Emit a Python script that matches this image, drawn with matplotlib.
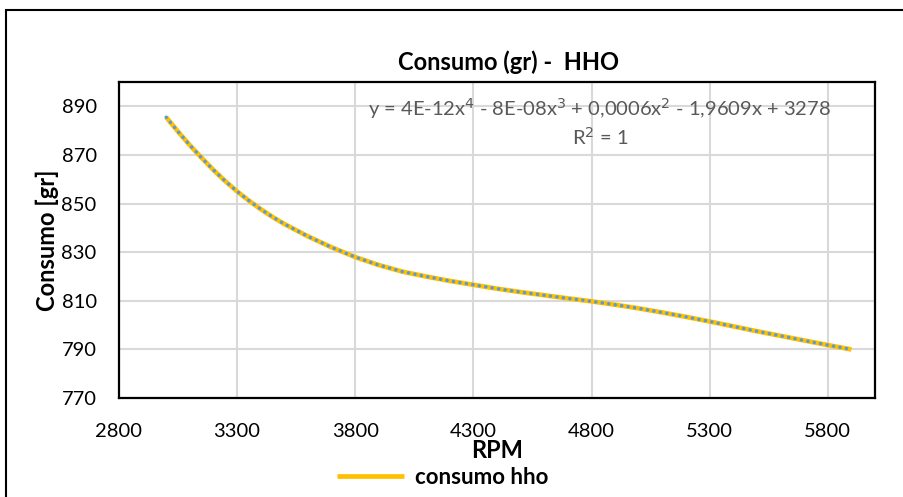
import numpy as np
import matplotlib
matplotlib.use("Agg")
import matplotlib.pyplot as plt
from matplotlib.patches import Rectangle

plt.rcParams['font.family'] = ['Lato', 'DejaVu Sans']

# RPM vs consumo (gr)
rpm = [3000, 3050, 3100, 3150, 3200, 3250, 3300, 3350, 3400, 3450, 3500,
       3600, 3700, 3800, 3900, 4000, 4100, 4200, 4300, 4400, 4500, 4600,
       4700, 4800, 4900, 5000, 5100, 5200, 5300, 5400, 5500, 5600, 5700,
       5800, 5900]
consumo = [885.5, 879.6, 874.0, 868.8, 863.8, 859.2, 855.0, 851.2, 847.7,
           844.5, 841.6, 836.5, 832.0, 828.0, 824.7, 822.0, 820.0, 818.2,
           816.6, 815.0, 813.6, 812.3, 811.0, 809.8, 808.4, 806.9, 805.2,
           803.4, 801.5, 799.5, 797.5, 795.6, 793.7, 791.8, 790.0]

xticks = [2800, 3300, 3800, 4300, 4800, 5300, 5800]
yticks = [770, 790, 810, 830, 850, 870, 890]

fig = plt.figure(figsize=(9.04, 4.97), dpi=100)
ax = fig.add_axes([0.1316, 0.199, 0.8364, 0.636])

linea, = ax.plot(rpm, consumo, color='#FFC000', lw=3.4, solid_capstyle='butt',
                 solid_joinstyle='round', label='consumo hho', zorder=3)
ax.plot(rpm, consumo, color='#5B9BD5', lw=2.6, linestyle=(0, (0.01, 1.8)),
        dash_capstyle='round', zorder=4)

ax.set_xlim(2800, 6000)
ax.set_ylim(770, 900)
ax.set_xticks(xticks)
ax.set_yticks(yticks)
ax.tick_params(length=0, labelsize=14.5)
ax.tick_params(axis='y', pad=16)
ax.tick_params(axis='x', pad=18)
ax.grid(True, color='#D9D9D9', lw=1.5)
ax.set_axisbelow(True)
for s in ax.spines.values():
    s.set_linewidth(1.6)
    s.set_color('black')

ax.set_xlabel('RPM', fontsize=17, fontweight='bold', labelpad=-1)
ax.set_ylabel('Consumo [gr]', fontsize=17, fontweight='bold', labelpad=2)
fig.text(0.563, 0.875, 'Consumo (gr) -  HHO', ha='center', va='center',
         fontsize=17, fontweight='bold')

ax.text(0.636, 0.955, 'y = 4E-12x$^4$ - 8E-08x$^3$ + 0,0006x$^2$ - 1,9609x + 3278\nR$^2$ = 1',
        transform=ax.transAxes, ha='center', va='top', fontsize=14.5,
        color='#595959', linespacing=1.25)

fig.legend(handles=[linea], loc='center', bbox_to_anchor=(0.49, 0.04),
           frameon=False, prop={'size': 16, 'weight': 'bold'},
           handlelength=3.0, handletextpad=0.5)

fig.patches.append(Rectangle((6 / 904, -0.01), 1.0, 1 - 10 / 497 + 0.01,
                             transform=fig.transFigure, fill=False,
                             edgecolor='black', lw=1.5))

fig.savefig('out.png', dpi=100)
